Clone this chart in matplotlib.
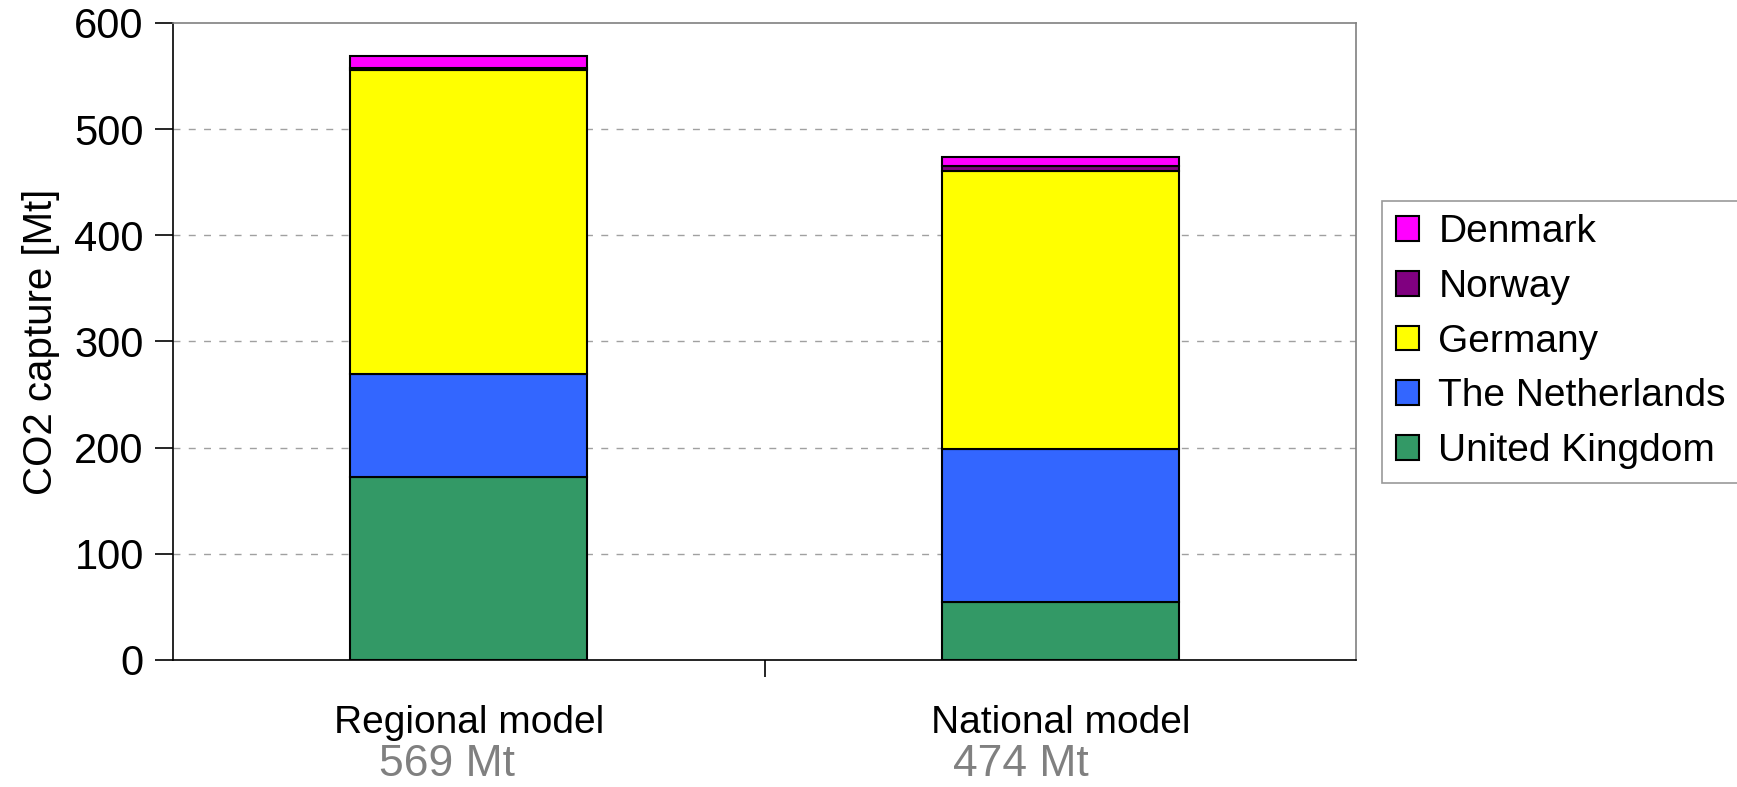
import matplotlib
matplotlib.use("Agg")
import matplotlib.pyplot as plt
import numpy as np

# CO2 capture by country for the two model variants (Mt)
models = ["Regional model", "National model"]
totals_text = ["569 Mt", "474 Mt"]
total_offsets = [-0.036, -0.067]
countries = ["United Kingdom", "The Netherlands", "Germany", "Norway", "Denmark"]
uk = [172, 55]
netherlands = [97, 144]
germany = [287, 262]
norway = [2, 4]
denmark = [11, 9]
series = [uk, netherlands, germany, norway, denmark]
colors = ["#339966", "#3366FF", "#FFFF00", "#800080", "#FF00FF"]
yticks = [0, 100, 200, 300, 400, 500, 600]

font = "Liberation Sans"

fig = plt.figure(figsize=(17.37, 7.87), dpi=100)
ax = fig.add_axes([0.0996, 0.1614, 0.6811, 0.8094])

x = np.arange(len(models))
bottom = np.zeros(len(models))
handles = []
for vals, col, name in zip(series, colors, countries):
    b = ax.bar(x, vals, width=0.4, bottom=bottom, color=col, edgecolor="black",
               linewidth=1.5, label=name, zorder=3)
    handles.append(b)
    bottom += np.array(vals)

ax.set_xlim(-0.5, 1.5)
ax.set_ylim(0, 600)
ax.set_yticks(yticks)
ax.set_yticklabels([str(v) for v in yticks], fontsize=30, family=font)
ax.tick_params(axis="y", direction="out", length=13, width=1.2, pad=8)

# category separator tick on the x axis
ax.set_xticks([0.5])
ax.set_xticklabels([""])
ax.tick_params(axis="x", direction="out", length=12, width=1.2)

for v in yticks[1:-1]:
    ax.axhline(v, color="#a0a0a0", linestyle=(0, (5, 6)), linewidth=1.0, zorder=1)

for side in ["top", "right"]:
    ax.spines[side].set_color("#808080")
    ax.spines[side].set_linewidth(1.2)
for side in ["left", "bottom"]:
    ax.spines[side].set_color("black")
    ax.spines[side].set_linewidth(1.2)

for i, (m, t, off) in enumerate(zip(models, totals_text, total_offsets)):
    ax.text(i, -42, m, ha="center", va="top", fontsize=28, family=font,
            clip_on=False)
    ax.text(i + off, -109, t, ha="center", va="baseline", fontsize=32, family=font,
            color="#808080", clip_on=False)

ax.set_ylabel("CO2 capture [Mt]", fontsize=29, family=font, labelpad=10)

leg = ax.legend(handles[::-1], countries[::-1], loc="upper left",
                bbox_to_anchor=(0.7956, 0.745), bbox_transform=fig.transFigure,
                prop={"family": font, "size": 28}, frameon=True, fancybox=False,
                edgecolor="#808080", handlelength=0.6, handleheight=0.6,
                handletextpad=0.5, labelspacing=0.48, borderpad=0.35,
                borderaxespad=0)
leg.get_frame().set_linewidth(1.2)

fig.savefig("out.png", dpi=100)
